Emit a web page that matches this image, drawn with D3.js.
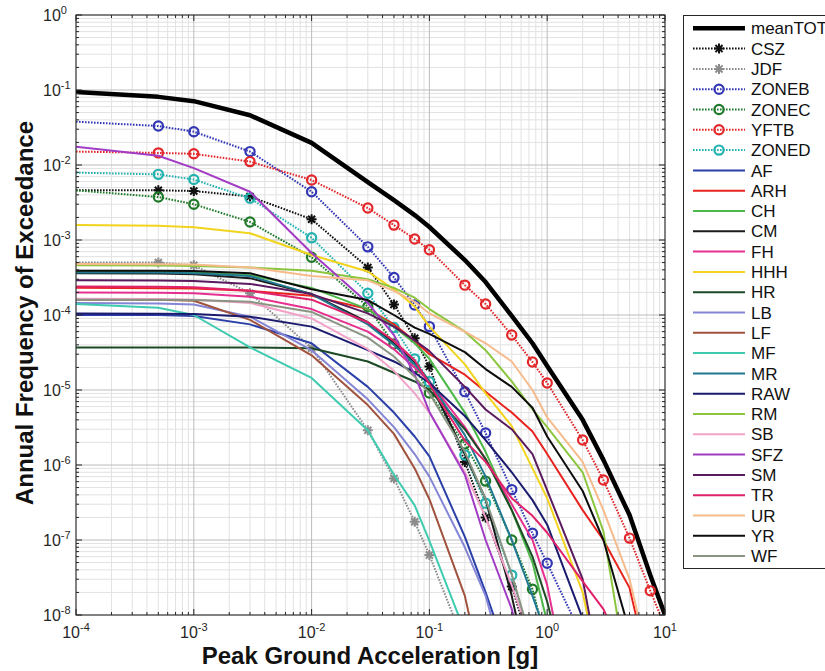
<!DOCTYPE html>
<html>
<head>
<meta charset="utf-8">
<script src="https://cdn.jsdelivr.net/npm/d3@7"></script>
<style>
  html, body { margin: 0; padding: 0; background: #fff; }
  svg { display: block; font-family: "Liberation Sans", Arial, Helvetica, sans-serif; }
</style>
</head>
<body>
<svg id="chart" width="825" height="671"></svg>
<script>
// ---------------- DATA ----------------
const pga = [1e-4, 5e-4, 1e-3, 3e-3, 1e-2, 3e-2, 5e-2, 7.5e-2, 0.1, 0.2, 0.3, 0.5, 0.75, 1, 2, 3, 5, 7.5, 10];

const seriesNames = ["meanTOT","CSZ","JDF","ZONEB","ZONEC","YFTB","ZONED","AF","ARH","CH","CM","FH","HHH","HR","LB","LF","MF","MR","RAW","RM","SB","SFZ","SM","TR","UR","YR","WF"];

const meanTOT = [0.094, 0.081, 0.071, 0.046, 0.0197, 0.0059, 0.0034, 0.00215, 0.00149, 5.4e-4, 2.75e-4, 9.7e-5, 4.2e-5, 2.09e-5, 4.0e-6, 1.17e-6, 2.15e-7, 3.4e-8, 1.0e-8];
const CSZ   = [4.6e-3, 4.6e-3, 4.5e-3, 3.8e-3, 1.89e-3, 4.3e-4, 1.38e-4, 4.9e-5, 2.05e-5, 1.1e-6, 2.0e-7, 2.4e-8, 3e-9, null, null, null, null, null, null];
const JDF   = [5.0e-4, 5.0e-4, 4.6e-4, 1.95e-4, 3.6e-5, 2.9e-6, 6.6e-7, 1.75e-7, 6.3e-8, 4e-9, null, null, null, null, null, null, null, null, null];
const ZONEB = [0.0378, 0.0331, 0.0278, 0.0151, 0.0044, 8.1e-4, 3.16e-4, 1.36e-4, 7.0e-5, 9.5e-6, 2.67e-6, 4.7e-7, 1.23e-7, 4.9e-8, 5e-9, null, null, null, null];
const ZONEC = [4.6e-3, 3.74e-3, 3.0e-3, 1.74e-3, 5.9e-4, 1.29e-4, 4.1e-5, 2.0e-5, 9.1e-6, 1.9e-6, 6.1e-7, 1.0e-7, 2.2e-8, 4e-9, null, null, null, null, null];
const YFTB  = [0.0151, 0.0145, 0.0141, 0.0111, 0.0063, 0.00267, 0.00158, 0.00103, 7.4e-4, 2.5e-4, 1.4e-4, 5.4e-5, 2.36e-5, 1.24e-5, 2.15e-6, 6.3e-7, 1.06e-7, 2.1e-8, 7e-9];
const ZONED = [0.0079, 0.0075, 0.0064, 0.0036, 0.00107, 1.95e-4, 6.8e-5, 2.6e-5, 1.29e-5, 1.36e-6, 3.1e-7, 3.4e-8, 3e-9, null, null, null, null, null, null];
const AF    = [1.0e-4, 1.0e-4, 9.7e-5, 7.5e-5, 4.2e-5, 1.1e-5, 5e-6, 2.4e-6, 1.3e-6, 1.1e-7, 2e-8, 2e-9, null, null, null, null, null, null, null];
const ARH   = [2.3e-4, 2.28e-4, 2.25e-4, 2.1e-4, 1.8e-4, 1.2e-4, 7.5e-5, 4.5e-5, 3e-5, 1.6e-5, 9.5e-6, 5e-6, 2.8e-6, 1.4e-6, 2.5e-7, 1e-7, 2.3e-8, 1.5e-9, null];
const CH    = [3.8e-4, 3.78e-4, 3.7e-4, 3.4e-4, 2.3e-4, 1.2e-4, 7e-5, 4.2e-5, 2.6e-5, 5e-6, 1.5e-6, 2.5e-7, 5e-8, 8e-9, null, null, null, null, null];
const CM    = [3.6e-4, 3.58e-4, 3.5e-4, 3.1e-4, 1.9e-4, 8e-5, 4.2e-5, 2.3e-5, 1.3e-5, 1.4e-6, 3.5e-7, 1.8e-8, 1e-9, null, null, null, null, null, null];
const FH    = [2.0e-4, 1.98e-4, 1.95e-4, 1.75e-4, 1.2e-4, 6e-5, 3.5e-5, 2e-5, 1.3e-5, 3.2e-6, 1.2e-6, 3e-7, 1e-7, 2.5e-8, 1e-10, null, null, null, null];
const HHH   = [1.58e-3, 1.55e-3, 1.48e-3, 1.23e-3, 6.3e-4, 3.8e-4, 2.2e-4, 1.3e-4, 7e-5, 2.2e-5, 9e-6, 3.3e-6, 9e-7, 3.6e-7, 2e-8, 1e-9, null, null, null];
const HR    = [3.7e-5, 3.7e-5, 3.7e-5, 3.7e-5, 3.6e-5, 2.4e-5, 1.7e-5, 1.3e-5, 1.0e-5, 3e-6, 1.2e-6, 2.5e-7, 6e-8, 1.5e-8, 2e-10, null, null, null, null];
const LB    = [1.45e-4, 1.42e-4, 1.38e-4, 9.5e-5, 3.4e-5, 7.5e-6, 3.2e-6, 1.4e-6, 7e-7, 8e-8, 1.8e-8, 1e-9, null, null, null, null, null, null, null];
const LF    = [1.6e-4, 1.6e-4, 1.55e-4, 8.6e-5, 2.9e-5, 6.3e-6, 2.6e-6, 9e-7, 3.5e-7, 1.8e-8, 1e-9, null, null, null, null, null, null, null, null];
const MF    = [1.4e-4, 1.25e-4, 1.0e-4, 3.7e-5, 1.45e-5, 2.9e-6, 7.4e-7, 2.9e-7, 9.7e-8, 6e-9, null, null, null, null, null, null, null, null, null];
const MR    = [3.7e-4, 3.68e-4, 3.6e-4, 3.3e-4, 1.9e-4, 7.5e-5, 4e-5, 2.2e-5, 1.3e-5, 2.5e-6, 7e-7, 1e-7, 1.8e-8, 5e-9, null, null, null, null, null];
const RAW   = [1.05e-4, 1.04e-4, 1.03e-4, 9.5e-5, 7e-5, 3.4e-5, 2.4e-5, 1.7e-5, 1.24e-5, 4.5e-6, 2.15e-6, 8e-7, 3.4e-7, 1.6e-7, 9e-9, null, null, null, null];
const RM    = [4.6e-4, 4.58e-4, 4.5e-4, 4.3e-4, 3.9e-4, 3.0e-4, 2.3e-4, 1.7e-4, 1.2e-4, 6e-5, 3.4e-5, 1.3e-5, 5.5e-6, 3.2e-6, 8e-7, 1.3e-7, 1e-9, null, null];
const SB    = [1.65e-4, 1.63e-4, 1.6e-4, 1.45e-4, 9e-5, 3.5e-5, 1.8e-5, 9e-6, 5e-6, 8e-7, 2e-7, 2.5e-8, 4e-9, null, null, null, null, null, null];
const SFZ   = [0.0175, 0.0133, 0.0091, 0.0044, 6.7e-4, 1.45e-4, 5.4e-5, 1.6e-5, 5.1e-6, 7.4e-7, 1e-7, 1.2e-8, 1e-9, null, null, null, null, null, null];
const SM    = [2.9e-4, 2.88e-4, 2.85e-4, 2.6e-4, 1.9e-4, 1.05e-4, 7e-5, 4.6e-5, 3.3e-5, 1.1e-5, 5.5e-6, 3e-6, 1.4e-6, 4.6e-7, 3e-8, 1e-9, null, null, null];
const TR    = [2.4e-4, 2.38e-4, 2.35e-4, 2.1e-4, 1.6e-4, 8e-5, 4.5e-5, 2.5e-5, 1.2e-5, 2.1e-6, 1.1e-6, 3.6e-7, 2.1e-7, 1.25e-7, 2.8e-8, 1.2e-8, 2e-9, null, null];
const UR    = [4.8e-4, 4.75e-4, 4.7e-4, 4.3e-4, 3.3e-4, 2.9e-4, 2.1e-4, 1.5e-4, 1.05e-4, 6e-5, 4.2e-5, 2.4e-5, 1.0e-5, 4.3e-6, 1.1e-6, 2.5e-7, 3e-8, 2e-9, null];
const YR    = [3.9e-4, 3.88e-4, 3.85e-4, 3.6e-4, 2.2e-4, 1.58e-4, 1.0e-4, 6.8e-5, 5.6e-5, 3.2e-5, 1.9e-5, 1.1e-5, 5.8e-6, 2.4e-6, 4.5e-7, 1e-7, 6e-9, null, null];
const WF    = [1.6e-4, 1.6e-4, 1.58e-4, 1.5e-4, 1.1e-4, 5e-5, 2.8e-5, 1.5e-5, 9e-6, 1.5e-6, 3.5e-7, 3.5e-8, 4e-9, null, null, null, null, null, null];

const seriesValues = {meanTOT, CSZ, JDF, ZONEB, ZONEC, YFTB, ZONED, AF, ARH, CH, CM, FH, HHH, HR, LB, LF, MF, MR, RAW, RM, SB, SFZ, SM, TR, UR, YR, WF};

const xTickExponents = [-4, -3, -2, -1, 0, 1];
const yTickExponents = [-8, -7, -6, -5, -4, -3, -2, -1, 0];
const xLabel = "Peak Ground Acceleration [g]";
const yLabel = "Annual Frequency of Exceedance";

// ---------------- STYLES ----------------
const styles = {
  meanTOT: {color: "#000000", width: 4.5, dash: null, marker: null},
  CSZ:   {color: "#111111", width: 2, dash: "1.6,1.4", marker: "star"},
  JDF:   {color: "#8c8c8c", width: 2, dash: "1.6,1.4", marker: "star"},
  ZONEB: {color: "#3236b4", width: 2, dash: "1.6,1.4", marker: "circle"},
  ZONEC: {color: "#1e7a28", width: 2, dash: "1.6,1.4", marker: "circle"},
  YFTB:  {color: "#e3262a", width: 2, dash: "1.6,1.4", marker: "circle"},
  ZONED: {color: "#22b3b0", width: 2, dash: "1.6,1.4", marker: "circle"},
  AF:  {color: "#2b3fa8", width: 2},
  ARH: {color: "#e8231f", width: 2},
  CH:  {color: "#4cb848", width: 2},
  CM:  {color: "#1a1a1a", width: 2},
  FH:  {color: "#e6308f", width: 2},
  HHH: {color: "#f2d41e", width: 2},
  HR:  {color: "#1d4a26", width: 2},
  LB:  {color: "#8585d6", width: 2},
  LF:  {color: "#a0523c", width: 2},
  MF:  {color: "#3fcbb0", width: 2},
  MR:  {color: "#1f7890", width: 2},
  RAW: {color: "#1a1a6e", width: 2},
  RM:  {color: "#8cc63f", width: 2},
  SB:  {color: "#f2a2c8", width: 2},
  SFZ: {color: "#a23cc4", width: 2},
  SM:  {color: "#5a1a5e", width: 2},
  TR:  {color: "#e0226a", width: 2},
  UR:  {color: "#f6bb8c", width: 2},
  YR:  {color: "#0d0d0d", width: 2},
  WF:  {color: "#8a9482", width: 2}
};

// ---------------- LAYOUT ----------------
const svg = d3.select("#chart");
const plot = {left: 76, right: 665, top: 15, bottom: 615};
const x = d3.scaleLog().domain([1e-4, 10]).range([plot.left, plot.right]);
const y = d3.scaleLog().domain([1e-8, 1]).range([plot.bottom, plot.top]);

svg.append("rect").attr("width", 825).attr("height", 671).attr("fill", "#fff");

// grid
const gridG = svg.append("g");
function minorVals(lo, hi) {
  const out = [];
  for (let e = lo; e < hi; e++) for (let k = 1; k <= 9; k++) out.push({v: k * Math.pow(10, e), major: k === 1});
  out.push({v: Math.pow(10, hi), major: true});
  return out;
}
const xGrid = minorVals(-4, 1);
const yGrid = minorVals(-8, 0);
gridG.selectAll(".xg").data(xGrid.filter(d => !d.major)).join("line")
  .attr("x1", d => x(d.v)).attr("x2", d => x(d.v)).attr("y1", plot.top).attr("y2", plot.bottom)
  .attr("stroke", "#e2e2e2").attr("stroke-width", 1);
gridG.selectAll(".yg").data(yGrid.filter(d => !d.major)).join("line")
  .attr("y1", d => y(d.v)).attr("y2", d => y(d.v)).attr("x1", plot.left).attr("x2", plot.right)
  .attr("stroke", "#e2e2e2").attr("stroke-width", 1);
gridG.selectAll(".xgm").data(xGrid.filter(d => d.major)).join("line")
  .attr("x1", d => x(d.v)).attr("x2", d => x(d.v)).attr("y1", plot.top).attr("y2", plot.bottom)
  .attr("stroke", "#bcbcbc").attr("stroke-width", 1);
gridG.selectAll(".ygm").data(yGrid.filter(d => d.major)).join("line")
  .attr("y1", d => y(d.v)).attr("y2", d => y(d.v)).attr("x1", plot.left).attr("x2", plot.right)
  .attr("stroke", "#bcbcbc").attr("stroke-width", 1);

// clip
svg.append("clipPath").attr("id", "clip").append("rect")
  .attr("x", plot.left).attr("y", plot.top)
  .attr("width", plot.right - plot.left).attr("height", plot.bottom - plot.top);

const dataG = svg.append("g").attr("clip-path", "url(#clip)");
const line = d3.line().defined(d => d.v != null).x(d => x(d.x)).y(d => y(d.v));

function starPath(r) {
  let p = "";
  [0, 45, 90, 135].forEach(a => {
    const rad = a * Math.PI / 180, dx = r * Math.cos(rad), dy = r * Math.sin(rad);
    p += `M${(-dx).toFixed(2)},${(-dy).toFixed(2)}L${dx.toFixed(2)},${dy.toFixed(2)}`;
  });
  return p;
}

function drawMarker(g, type, color, cx, cy) {
  if (type === "circle") {
    g.append("circle").attr("cx", cx).attr("cy", cy).attr("r", 4.6)
      .attr("fill", "none").attr("stroke", color).attr("stroke-width", 2.2);
  } else if (type === "star") {
    g.append("path").attr("d", starPath(5)).attr("transform", `translate(${cx},${cy})`)
      .attr("fill", "none").attr("stroke", color).attr("stroke-width", 2);
  }
}

seriesNames.forEach(name => {
  const st = styles[name];
  const pts = pga.map((xv, i) => ({x: xv, v: seriesValues[name][i]}));
  const p = dataG.append("path").datum(pts).attr("d", line)
    .attr("fill", "none").attr("stroke", st.color).attr("stroke-width", st.width)
    .attr("stroke-linejoin", "round");
  if (st.dash) p.attr("stroke-dasharray", st.dash);
  if (st.marker) {
    pts.filter(d => d.v != null && d.x >= 5e-4 && d.v >= 1e-8)
      .forEach(d => drawMarker(dataG, st.marker, st.color, x(d.x), y(d.v)));
  }
});

// axes box and ticks
const axG = svg.append("g");
axG.append("rect").attr("x", plot.left).attr("y", plot.top)
  .attr("width", plot.right - plot.left).attr("height", plot.bottom - plot.top)
  .attr("fill", "none").attr("stroke", "#262626").attr("stroke-width", 1);
xGrid.forEach(d => {
  const len = d.major ? 6 : 3, px = x(d.v);
  axG.append("line").attr("x1", px).attr("x2", px).attr("y1", plot.bottom).attr("y2", plot.bottom - len).attr("stroke", "#262626");
  axG.append("line").attr("x1", px).attr("x2", px).attr("y1", plot.top).attr("y2", plot.top + len).attr("stroke", "#262626");
});
yGrid.forEach(d => {
  const len = d.major ? 6 : 3, py = y(d.v);
  axG.append("line").attr("y1", py).attr("y2", py).attr("x1", plot.left).attr("x2", plot.left + len).attr("stroke", "#262626");
  axG.append("line").attr("y1", py).attr("y2", py).attr("x1", plot.right).attr("x2", plot.right - len).attr("stroke", "#262626");
});

// tick labels
xTickExponents.forEach(e => {
  const t = axG.append("text").attr("x", x(Math.pow(10, e))).attr("y", 638)
    .attr("text-anchor", "middle").attr("font-size", 16).attr("fill", "#262626");
  t.append("tspan").text("10");
  t.append("tspan").attr("dy", -7).attr("font-size", 11).text(String(e));
});
yTickExponents.forEach(e => {
  const t = axG.append("text").attr("x", 43).attr("y", y(Math.pow(10, e)) + 6)
    .attr("text-anchor", "start").attr("font-size", 16).attr("fill", "#262626");
  t.append("tspan").text("10");
  t.append("tspan").attr("dy", -7).attr("font-size", 11).text(String(e));
});

// axis labels
svg.append("text").attr("x", 370).attr("y", 664).attr("text-anchor", "middle")
  .attr("font-size", 24).attr("font-weight", "bold").attr("fill", "#111").text(xLabel);
svg.append("text").attr("transform", "translate(33,313) rotate(-90)").attr("text-anchor", "middle")
  .attr("font-size", 24).attr("font-weight", "bold").attr("fill", "#111").text(yLabel);

// legend
const lg = svg.append("g");
lg.append("rect").attr("x", 683.5).attr("y", 15.5).attr("width", 200).attr("height", 553)
  .attr("fill", "#fff").attr("stroke", "#262626").attr("stroke-width", 1);
seriesNames.forEach((name, i) => {
  const st = styles[name];
  const cy = 28.3 + i * 20.3;
  const l = lg.append("line").attr("x1", 693).attr("x2", 745).attr("y1", cy).attr("y2", cy)
    .attr("stroke", st.color).attr("stroke-width", st.width);
  if (st.dash) l.attr("stroke-dasharray", st.dash);
  if (st.marker) drawMarker(lg, st.marker, st.color, 719, cy);
  lg.append("text").attr("x", 751).attr("y", cy).attr("dy", "0.36em")
    .attr("font-size", 17).attr("fill", "#111").text(name);
});
</script>
</body>
</html>
